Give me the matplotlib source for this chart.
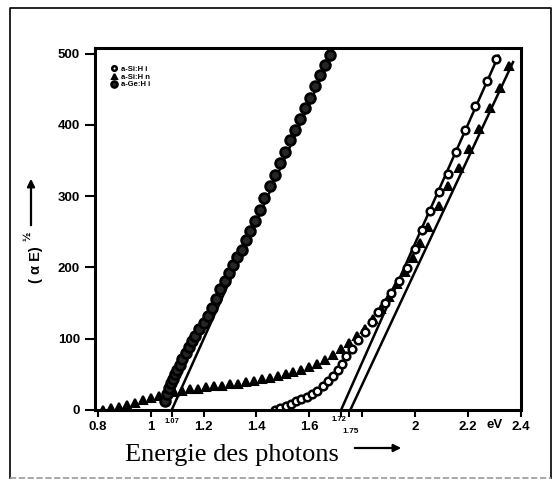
import matplotlib
matplotlib.use('Agg')
import matplotlib.pyplot as plt
from matplotlib.lines import Line2D
import matplotlib.transforms as mtransforms

# a-Ge:H i  (dense markers, lowest gap)
ge_x = [1.056, 1.062, 1.069, 1.076, 1.083, 1.091, 1.100, 1.110, 1.120, 1.132,
        1.144, 1.156, 1.169, 1.184, 1.200, 1.216, 1.232, 1.248, 1.264, 1.280,
        1.296, 1.312, 1.328, 1.344, 1.360, 1.376, 1.394, 1.412, 1.430, 1.450,
        1.470, 1.488, 1.507, 1.526, 1.545, 1.563, 1.582, 1.601, 1.620, 1.640,
        1.660, 1.679]
ge_y = [12, 22, 31, 38, 44, 50, 56, 63, 71, 80,
        88, 96, 104, 113, 122, 132, 143, 156, 169, 181,
        192, 204, 215, 224, 238, 251, 265, 280, 297, 314,
        330, 346, 362, 378, 393, 408, 423, 438, 454, 470,
        484, 498]

# a-Si:H n  (triangles, long tail)
sin_x = [0.82, 0.85, 0.88, 0.91, 0.94, 0.97, 1.00, 1.03, 1.06, 1.09,
         1.12, 1.15, 1.18, 1.21, 1.24, 1.27, 1.30, 1.33, 1.36, 1.39,
         1.42, 1.45, 1.48, 1.51, 1.54, 1.57, 1.60, 1.63, 1.66, 1.69,
         1.72, 1.75, 1.78, 1.81, 1.84, 1.87, 1.90, 1.93, 1.96, 1.99,
         2.02, 2.05, 2.089, 2.126, 2.164, 2.204, 2.241, 2.283, 2.32, 2.354]
sin_y = [0, 2, 4, 7, 10, 14, 17, 20, 23, 25,
         27, 29, 30, 32, 33, 34, 36, 37, 39, 41,
         43, 45, 47, 50, 53, 56, 60, 64, 70, 77,
         85, 94, 104, 114, 127, 142, 158, 176, 194, 213,
         234, 256, 286, 314, 340, 366, 394, 423, 451, 483]

# a-Si:H i  (open circles)
sii_x = [1.47, 1.49, 1.51, 1.53, 1.55, 1.57, 1.59, 1.61, 1.63, 1.65,
         1.67, 1.69, 1.71, 1.725, 1.74, 1.76, 1.785, 1.81, 1.835, 1.86,
         1.885, 1.91, 1.94, 1.97, 2.00, 2.026, 2.057, 2.091, 2.124, 2.154,
         2.189, 2.226, 2.27, 2.307]
sii_y = [0, 3, 6, 9, 12, 15, 18, 22, 27, 34,
         41, 48, 56, 65, 75, 86, 98, 110, 123, 137,
         150, 164, 181, 199, 226, 253, 279, 306, 331, 362,
         393, 427, 462, 493]

# extrapolated straight lines (start, end)
fit_ge = ([1.08, 1.685], [0, 500])
fit_sii = ([1.72, 2.315], [0, 497])
fit_sin = ([1.755, 2.37], [0, 488])

labels = ['a-Si:H i', 'a-Si:H n', 'a-Ge:H i']
xticks = [0.8, 1, 1.2, 1.4, 1.6, 2, 2.2, 2.4]
xticklabels = ['0.8', '1', '1.2', '1.4', '1.6', '2', '2.2', '2.4']
xminor = [1.08, 1.72, 1.75, 1.8]
yticks = [0, 100, 200, 300, 400, 500]

fig = plt.figure(figsize=(5.59, 4.88), dpi=100)
ax = fig.add_axes([0.170, 0.160, 0.762, 0.742])

bold = dict(family='Liberation Sans', weight='bold')

ax.plot(*fit_ge, color='black', lw=1.8)
ax.plot(*fit_sii, color='black', lw=1.8)
ax.plot(*fit_sin, color='black', lw=1.8)

ax.plot(sin_x, sin_y, '^', color='black', ms=6, mew=1.5, label=labels[1])
ax.plot(sii_x, sii_y, 'o', mfc='white', mec='black', ms=5.5, mew=1.8, label=labels[0])
ax.plot(ge_x, ge_y, 'o', mfc='0.15', mec='black', ms=7, mew=2.0, label=labels[2])

h, l = ax.get_legend_handles_labels()
order = [1, 0, 2]
leg = ax.legend([h[i] for i in order], [l[i] for i in order], loc='upper left',
                bbox_to_anchor=(0.02, 0.97), frameon=False, handlelength=1.0,
                handletextpad=0.4, labelspacing=0.05, markerscale=0.6,
                prop=dict(family='Liberation Sans', weight='bold', size=5.5))

ax.set_xlim(0.79, 2.4)
ax.set_ylim(0, 508)

ax.set_xticks(xticks)
ax.set_xticklabels(xticklabels, **bold, fontsize=9.5)
ax.set_xticks(xminor, minor=True)
ax.set_yticks(yticks)
ax.set_yticklabels([str(v) for v in yticks], **bold, fontsize=9.5)
ax.tick_params(which='both', direction='out', length=5, width=1.5, pad=3)
ax.tick_params(axis='y', length=7, pad=4)

for s in ax.spines.values():
    s.set_linewidth(2.2)

# small labels for the gap values
trans = mtransforms.blended_transform_factory(ax.transData, ax.transAxes)
ax.text(1.08, -0.022, '1.07', transform=trans, ha='center', va='top', **bold, fontsize=5.5)
ax.text(1.712, -0.018, '1.72', transform=trans, ha='center', va='top', **bold, fontsize=5.5)
ax.text(1.757, -0.05, '1.75', transform=trans, ha='center', va='top', **bold, fontsize=6)
ax.text(2.3, -0.024, 'eV', transform=trans, ha='center', va='top', **bold, fontsize=9.5)

# axis titles with arrows
fig.text(125 / 559, 1 - 455 / 488, 'Energie des photons', family='Liberation Serif',
         fontsize=19, ha='left', va='center')
ax.annotate('', xy=(404 / 559, 1 - 448 / 488), xytext=(352 / 559, 1 - 448 / 488),
            xycoords='figure fraction', textcoords='figure fraction',
            arrowprops=dict(arrowstyle='-|>', color='black', lw=1.6, mutation_scale=11))
fig.text(36 / 559, 1 - 265 / 488, '( α E)', rotation=90, ha='center', va='center',
         **bold, fontsize=10.5)
fig.text(27 / 559, 1 - 236 / 488, '½', rotation=90, ha='center', va='center',
         **bold, fontsize=8)
ax.annotate('', xy=(31 / 559, 1 - 176 / 488), xytext=(31 / 559, 1 - 228 / 488),
            xycoords='figure fraction', textcoords='figure fraction',
            arrowprops=dict(arrowstyle='-|>', color='black', lw=1.6, mutation_scale=11))

# frame around the whole figure
fig.add_artist(Line2D([10 / 559, 10 / 559, 551 / 559, 551 / 559],
                      [1 - 478 / 488, 1 - 8 / 488, 1 - 8 / 488, 1 - 478 / 488],
                      color='black', lw=1.2, transform=fig.transFigure))
fig.add_artist(Line2D([10 / 559, 551 / 559], [1 - 478 / 488, 1 - 478 / 488],
                      color='0.6', lw=1.2, ls='--', transform=fig.transFigure))

fig.savefig('out.png', dpi=100)
